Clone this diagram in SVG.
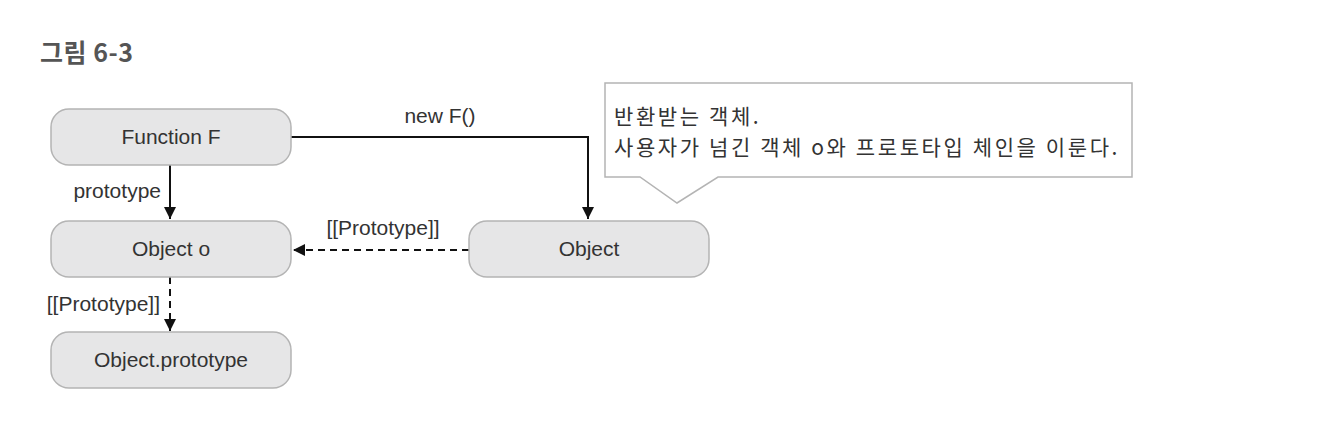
<svg xmlns="http://www.w3.org/2000/svg" width="1325" height="438" viewBox="0 0 1325 438">
<style>
.node rect{fill:#e6e6e7;stroke:#b4b4b4;stroke-width:1.5}
.node text{font-family:"Liberation Sans",Arial,sans-serif;font-size:21px;fill:#333;text-anchor:middle}
.lbl{font-family:"Liberation Sans",Arial,sans-serif;font-size:21px;fill:#333}
.ko{font-family:"Noto Sans CJK KR","Liberation Sans",sans-serif;font-size:21px;letter-spacing:2.6px;fill:#333}
.solid{fill:none;stroke:#111;stroke-width:2}
.dash{fill:none;stroke:#111;stroke-width:2;stroke-dasharray:7,5}
</style>
<defs>
<marker id="ah" viewBox="0 0 10 10" refX="10" refY="5" markerWidth="6" markerHeight="6" orient="auto" markerUnits="strokeWidth"><path d="M0,0 L10,5 L0,10 z" fill="#111"/></marker>
</defs>
<rect width="1325" height="438" fill="#fff"/>
<text x="40" y="62" style="font-family:'Noto Sans CJK KR','Liberation Sans',sans-serif;font-size:25px;font-weight:bold;letter-spacing:0.5px;fill:#555">그림 6-3</text>

<g id="callout">
<path d="M605,83 H1132 V177 H718 L677,203 L640,177 H605 Z" fill="#fff" stroke="#b4b4b4" stroke-width="1.5"/>
<text class="ko" x="614" y="124">반환받는 객체.</text>
<text class="ko" x="614" y="155">사용자가 넘긴 객체 o와 프로토타입 체인을 이룬다.</text>
</g>

<g id="connectors">
<path class="solid" d="M291,137 H588 V219" marker-end="url(#ah)"/>
<path class="solid" d="M170,165 V219" marker-end="url(#ah)"/>
<path class="dash" d="M469,250 H293" marker-end="url(#ah)"/>
<path class="dash" d="M170,277 V331" marker-end="url(#ah)"/>
<text class="lbl" x="440" y="123" text-anchor="middle">new F()</text>
<text class="lbl" x="161" y="198" text-anchor="end">prototype</text>
<text class="lbl" x="383" y="235" text-anchor="middle">[[Prototype]]</text>
<text class="lbl" x="160" y="311" text-anchor="end">[[Prototype]]</text>
</g>

<g id="functionF" class="node"><rect x="51" y="109" width="240" height="56" rx="18"/><text x="171" y="144">Function F</text></g>
<g id="objectO" class="node"><rect x="51" y="221" width="240" height="56" rx="18"/><text x="171" y="256">Object o</text></g>
<g id="objectPrototype" class="node"><rect x="51" y="332" width="240" height="56" rx="18"/><text x="171" y="367">Object.prototype</text></g>
<g id="object" class="node"><rect x="469" y="221" width="240" height="56" rx="18"/><text x="589" y="256">Object</text></g>
</svg>
